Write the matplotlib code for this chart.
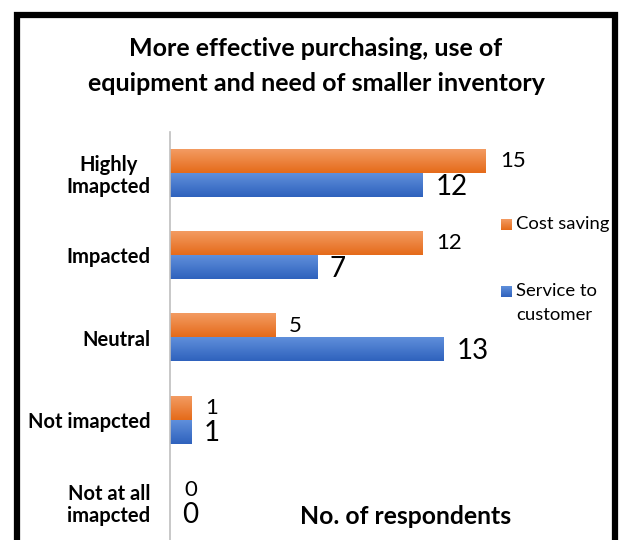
import matplotlib
matplotlib.use("Agg")
import matplotlib.pyplot as plt
from matplotlib.patches import Rectangle
from matplotlib.colors import LinearSegmentedColormap
import numpy as np

categories = ["Highly\nImapcted", "Impacted", "Neutral", "Not imapcted", "Not at all\nimapcted"]
cost_saving = [15, 12, 5, 1, 0]
service_to_customer = [12, 7, 13, 1, 0]
series_names = ["Cost saving", "Service to\ncustomer"]

ORANGE = "#ED7D31"
BLUE = "#4472C4"
ORANGE_GRAD = ("#F39B62", "#E56B1A")
BLUE_GRAD = ("#5F8FDB", "#2F62BD")
FONT = ["Lato", "DejaVu Sans"]

W, H = 624, 540
fig = plt.figure(figsize=(W / 100, H / 100), dpi=100)

def fx(px):
    return px / W

def fy(py):
    return 1 - py / H

# chart frame
fig.patches.append(Rectangle((fx(16.5), fy(560)), fx(598), fy(14.5) - fy(560),
                             transform=fig.transFigure, fill=False,
                             edgecolor="black", linewidth=4.5, zorder=0))

ax_top, ax_bot = 132, 543
ax = fig.add_axes([fx(170), fy(ax_bot), fx(337), (ax_bot - ax_top) / H])
xlim = (0, 16)
y = np.arange(len(categories))
ylim = (len(categories) - 0.5, -0.5)

h = 0.29
bars_o = ax.barh(y - h / 2, cost_saving, height=h, color=ORANGE, label=series_names[0])
bars_b = ax.barh(y + h / 2, service_to_customer, height=h, color=BLUE, label=series_names[1])

# vertical gradient fill on each bar (lighter at the top edge)
grad = np.linspace(0, 1, 64).reshape(-1, 1)
for bars, (c_top, c_bot) in ((bars_o, ORANGE_GRAD), (bars_b, BLUE_GRAD)):
    cmap = LinearSegmentedColormap.from_list("g", [c_top, c_bot])
    for rect in bars:
        x0, yb = rect.get_x(), rect.get_y()
        w, hh = rect.get_width(), rect.get_height()
        if w <= 0:
            continue
        # with the inverted y axis, yb is the visual top edge
        ax.imshow(grad, cmap=cmap, aspect="auto", origin="upper",
                  extent=[x0, x0 + w, yb + hh, yb], zorder=2, interpolation="bilinear")

ax.set_xlim(*xlim)
ax.set_ylim(*ylim)

for yi, v in zip(y, cost_saving):
    ax.annotate(str(v), (v, yi - h / 2), xytext=(10, 0), textcoords="offset points",
                ha="left", va="center", fontsize=16, family=FONT)
for yi, v in zip(y, service_to_customer):
    ax.annotate(str(v), (v, yi + h / 2 + 0.02), xytext=(9, 0), textcoords="offset points",
                ha="left", va="center", fontsize=20, family=FONT)

ax.set_yticks(y)
ax.set_yticklabels(categories, fontsize=14.5, fontweight="bold", family=FONT,
                   multialignment="center", linespacing=1.15)
ax.tick_params(axis="y", length=0, pad=14)
ax.set_xticks([])
for s in ["top", "right", "bottom"]:
    ax.spines[s].set_visible(False)
ax.spines["left"].set_color("#BFBFBF")
ax.spines["left"].set_linewidth(1.2)
ax.set_facecolor("none")

fig.text(fx(316), fy(66), "More effective purchasing, use of\nequipment and need of smaller inventory",
         ha="center", va="center", fontsize=18, fontweight="bold", family=FONT,
         linespacing=1.6)

fig.text(fx(406), fy(516), "No. of respondents", ha="center", va="center",
         fontsize=17.8, fontweight="bold", family=FONT)

# legend: colour swatch followed by series name
sw = 11
legend_rows = [(series_names[0], ORANGE_GRAD, 224.5),
               (series_names[1], BLUE_GRAD, 291.5)]
for name, (c_top, c_bot), yc in legend_rows:
    sax = fig.add_axes([fx(501), fy(yc + sw / 2), fx(sw), sw / H])
    sax.imshow(grad, cmap=LinearSegmentedColormap.from_list("s", [c_top, c_bot]),
               aspect="auto", interpolation="bilinear")
    sax.set_axis_off()
    fig.text(fx(516), fy(yc - 8), name, ha="left", va="top", fontsize=13.3,
             family=FONT, linespacing=1.55)

fig.savefig("out.png", dpi=100)
